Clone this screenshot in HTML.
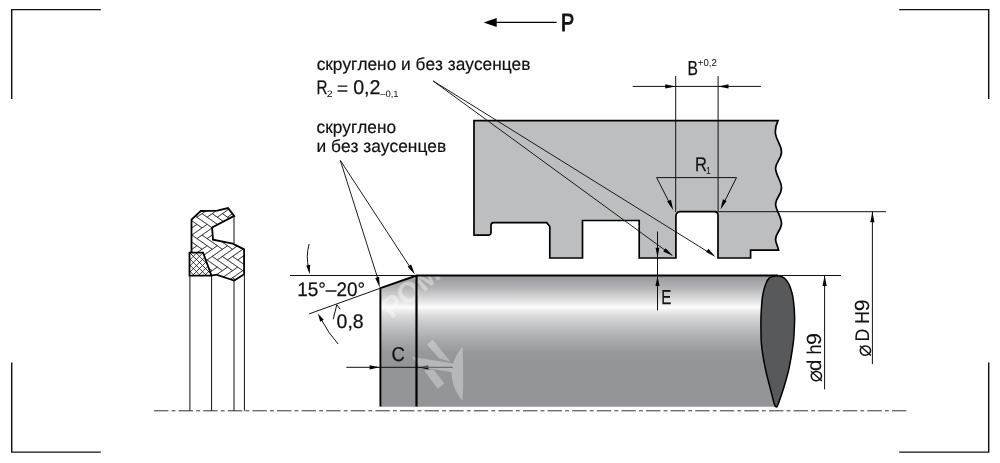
<!DOCTYPE html>
<html lang="ru">
<head>
<meta charset="utf-8">
<title>Чертёж посадочного места уплотнения</title>
<style>
html,body{margin:0;padding:0;background:#fff;}
body{width:1000px;height:463px;overflow:hidden;}
svg{display:block;}
.labels{filter:grayscale(1);}
text{font-family:"Liberation Sans",sans-serif;fill:#111;text-rendering:geometricPrecision;font-kerning:none;}
.thin{stroke:#111;stroke-width:1;fill:none;}
.lead{stroke:#111;stroke-width:0.95;fill:none;}
.thick{stroke:#000;stroke-width:1.7;fill:none;stroke-linejoin:miter;}
.frame{stroke:#111;stroke-width:1.45;fill:none;}
.ah{fill:#000;stroke:none;}
</style>
</head>
<body>
<svg width="1000" height="463" viewBox="0 0 1000 463">
<defs>
  <linearGradient id="shaft" x1="0" y1="275" x2="0" y2="407" gradientUnits="userSpaceOnUse">
    <stop offset="0" stop-color="#97989a"/>
    <stop offset="0.03" stop-color="#9d9fa2"/>
    <stop offset="0.10" stop-color="#b4b5b7"/>
    <stop offset="0.16" stop-color="#d0d1d3"/>
    <stop offset="0.205" stop-color="#e6e6e7"/>
    <stop offset="0.228" stop-color="#f2f2f3"/>
    <stop offset="0.244" stop-color="#fdfdfd"/>
    <stop offset="0.26" stop-color="#f2f2f3"/>
    <stop offset="0.28" stop-color="#e8e8e9"/>
    <stop offset="0.31" stop-color="#d9dadb"/>
    <stop offset="0.39" stop-color="#c1c2c4"/>
    <stop offset="0.49" stop-color="#a9aaad"/>
    <stop offset="0.585" stop-color="#98999c"/>
    <stop offset="0.65" stop-color="#939598"/>
    <stop offset="1" stop-color="#939598"/>
  </linearGradient>
</defs>
<rect width="1000" height="463" fill="#fff"/>

<!-- frame corners -->
<path class="frame" d="M100.8,9.6H11.7V99"/>
<path class="frame" d="M899.2,9.6H988.7V99"/>
<path class="frame" d="M11.7,362.5V452.1H100.8"/>
<path class="frame" d="M988.7,362.5V452.1H899.2"/>

<!-- shaft -->
<path d="M380.4,288.2L416.5,275.5H777L776.3,406.8H380.4Z" fill="url(#shaft)"/>
<path d="M776.7,275.4C775.5,275.8 771.2,276.4 769.4,277.9C767.6,279.4 766.7,281.8 765.7,284.2C764.7,286.6 763.9,289.6 763.3,292.3C762.7,295.0 762.4,296.3 762.0,300.4C761.6,304.4 761.2,311.2 761.0,316.6C760.8,322.0 761.0,328.5 761.0,332.8C761.0,337.1 761.0,338.7 761.3,342.6C761.6,346.5 762.2,351.2 763.0,356.2C763.8,361.2 765.0,367.0 766.2,372.4C767.4,377.8 768.9,383.2 770.3,388.6C771.7,394.0 773.6,401.8 774.6,404.8C775.6,407.9 776.0,406.5 776.3,406.9C776.6,406.5 776.7,407.9 777.9,404.8C779.1,401.8 781.8,394.0 783.5,388.6C785.2,383.2 786.8,377.8 788.1,372.4C789.4,367.0 790.4,361.2 791.3,356.2C792.2,351.2 792.8,346.5 793.3,342.6C793.8,338.7 793.9,337.1 794.1,332.8C794.3,328.5 794.7,322.0 794.6,316.6C794.5,311.2 793.9,304.4 793.4,300.4C792.9,296.3 792.5,295.0 791.8,292.3C791.0,289.6 790.2,286.6 788.9,284.2C787.6,281.8 786.0,279.4 784.0,277.9C782.0,276.4 777.9,275.8 776.7,275.4Z" fill="#58595b" stroke="#000" stroke-width="1.5" stroke-linejoin="round"/>

<path class="thin" d="M346.3,367.3H452.7"/>
<path class="ah" d="M379.6,367.3L369.6,365.2V369.4Z"/>
<path class="ah" d="M418.3,367.3L428.4,365.2V369.4Z"/>
<!-- watermark -->
<g fill="#fff" opacity="0.32">
  <path d="M426.9,344.7L432.6,339.8L450.3,361.4L439.5,358.5Z"/>
  <path d="M411.9,356.8L455.1,363.7L452.5,372.3L419.7,367.1Z"/>
  <path d="M424,370.6L433.5,369.4L444.4,383.5L437.8,388.7Z"/>
  <path d="M462.3,347.3C455,356 451.6,365 451.6,373.2C451.6,383 456,393 462.3,400.8C463.5,392 463.5,356 462.3,347.3Z"/>
</g>
<text transform="translate(391.5 319.5) rotate(-40)" font-size="29" font-weight="bold" style="fill:#fff" opacity="0.4" font-family='"Liberation Sans",sans-serif'>РОМ</text>
<path d="M380.4,406.5V288.2L416.5,275.5H778" stroke="#000" stroke-width="1.9" fill="none"/>
<path d="M416.5,275.5V406.5" stroke="#000" stroke-width="2.2" fill="none"/>

<!-- housing -->
<path id="housing" d="M474,120.7H778C775,127 775,131 775.6,134.3C777,142 781.5,145 781.5,152.1C781.5,159 775.6,162 775.6,168.3C775.6,175 781.5,181 781.5,187.7C781.5,195 775.6,198 775.6,203.9C775.6,210 781.5,217 781.5,223.4C781.5,230 775.6,233 775.6,239.5C775.6,244 778,246 778.6,250.2H750.6V258H718V214.7Q717.8,211.9 715,211.7H680Q676.4,212 675.9,216V258H639.2V220.5H582.5V258H549.8V226.5L546.7,222.7H493.5Q491,222.9 491,225.5V233Q490.8,235 488.8,235.2H474Z" fill="#bcbec0" stroke="#000" stroke-width="1.7" stroke-linejoin="miter"/>

<!-- centerline -->
<path d="M154,410.8H906.4" stroke="#333" stroke-width="1" stroke-dasharray="14.4 3.2 3.8 3.2" fill="none"/>

<!-- seal -->
<g transform="translate(0.4 0.9)">
<clipPath id="sealclip"><path d="M191.1,218.8L200.4,210.1L216.9,209.7L227.6,207.2L233.8,215L211.7,226.6L212.6,238.8L232.4,242.7L243.7,248.5V273.4L233.8,279.6L215.9,273.8L211.1,274.8L202.7,251.8H191.1Z"/></clipPath>
<clipPath id="ringclip"><path d="M189.1,251.8H202.7L211.1,274.8H189.1Z"/></clipPath>
<g clip-path="url(#sealclip)"><path transform="translate(222.0 255.5) scale(1 0.7) rotate(-45) scale(7.2)" d="M-15,-9h3v1h-3zM-12,-11h1v3h-1zM-12,-12h3v1h-3zM-9,-14h1v3h-1zM-9,-15h3v1h-3zM-6,-17h1v3h-1zM-14,-8h3v1h-3zM-11,-10h1v3h-1zM-11,-11h3v1h-3zM-8,-13h1v3h-1zM-8,-14h3v1h-3zM-5,-16h1v3h-1zM-13,-7h3v1h-3zM-10,-9h1v3h-1zM-10,-10h3v1h-3zM-7,-12h1v3h-1zM-7,-13h3v1h-3zM-4,-15h1v3h-1zM-15,-3h3v1h-3zM-12,-5h1v3h-1zM-12,-6h3v1h-3zM-9,-8h1v3h-1zM-9,-9h3v1h-3zM-6,-11h1v3h-1zM-6,-12h3v1h-3zM-3,-14h1v3h-1zM-3,-15h3v1h-3zM0,-17h1v3h-1zM-14,-2h3v1h-3zM-11,-4h1v3h-1zM-11,-5h3v1h-3zM-8,-7h1v3h-1zM-8,-8h3v1h-3zM-5,-10h1v3h-1zM-5,-11h3v1h-3zM-2,-13h1v3h-1zM-2,-14h3v1h-3zM1,-16h1v3h-1zM-13,-1h3v1h-3zM-10,-3h1v3h-1zM-10,-4h3v1h-3zM-7,-6h1v3h-1zM-7,-7h3v1h-3zM-4,-9h1v3h-1zM-4,-10h3v1h-3zM-1,-12h1v3h-1zM-1,-13h3v1h-3zM2,-15h1v3h-1zM-15,3h3v1h-3zM-12,1h1v3h-1zM-12,0h3v1h-3zM-9,-2h1v3h-1zM-9,-3h3v1h-3zM-6,-5h1v3h-1zM-6,-6h3v1h-3zM-3,-8h1v3h-1zM-3,-9h3v1h-3zM0,-11h1v3h-1zM0,-12h3v1h-3zM3,-14h1v3h-1zM3,-15h3v1h-3zM6,-17h1v3h-1zM-14,4h3v1h-3zM-11,2h1v3h-1zM-11,1h3v1h-3zM-8,-1h1v3h-1zM-8,-2h3v1h-3zM-5,-4h1v3h-1zM-5,-5h3v1h-3zM-2,-7h1v3h-1zM-2,-8h3v1h-3zM1,-10h1v3h-1zM1,-11h3v1h-3zM4,-13h1v3h-1zM4,-14h3v1h-3zM7,-16h1v3h-1zM-13,5h3v1h-3zM-10,3h1v3h-1zM-10,2h3v1h-3zM-7,0h1v3h-1zM-7,-1h3v1h-3zM-4,-3h1v3h-1zM-4,-4h3v1h-3zM-1,-6h1v3h-1zM-1,-7h3v1h-3zM2,-9h1v3h-1zM2,-10h3v1h-3zM5,-12h1v3h-1zM5,-13h3v1h-3zM8,-15h1v3h-1zM-15,9h3v1h-3zM-12,7h1v3h-1zM-12,6h3v1h-3zM-9,4h1v3h-1zM-9,3h3v1h-3zM-6,1h1v3h-1zM-6,0h3v1h-3zM-3,-2h1v3h-1zM-3,-3h3v1h-3zM0,-5h1v3h-1zM0,-6h3v1h-3zM3,-8h1v3h-1zM3,-9h3v1h-3zM6,-11h1v3h-1zM6,-12h3v1h-3zM9,-14h1v3h-1zM9,-15h3v1h-3zM12,-17h1v3h-1zM-14,10h3v1h-3zM-11,8h1v3h-1zM-11,7h3v1h-3zM-8,5h1v3h-1zM-8,4h3v1h-3zM-5,2h1v3h-1zM-5,1h3v1h-3zM-2,-1h1v3h-1zM-2,-2h3v1h-3zM1,-4h1v3h-1zM1,-5h3v1h-3zM4,-7h1v3h-1zM4,-8h3v1h-3zM7,-10h1v3h-1zM7,-11h3v1h-3zM10,-13h1v3h-1zM10,-14h3v1h-3zM13,-16h1v3h-1zM-13,11h3v1h-3zM-10,9h1v3h-1zM-10,8h3v1h-3zM-7,6h1v3h-1zM-7,5h3v1h-3zM-4,3h1v3h-1zM-4,2h3v1h-3zM-1,0h1v3h-1zM-1,-1h3v1h-3zM2,-3h1v3h-1zM2,-4h3v1h-3zM5,-6h1v3h-1zM5,-7h3v1h-3zM8,-9h1v3h-1zM8,-10h3v1h-3zM11,-12h1v3h-1zM11,-13h3v1h-3zM14,-15h1v3h-1zM-15,15h3v1h-3zM-12,13h1v3h-1zM-12,12h3v1h-3zM-9,10h1v3h-1zM-9,9h3v1h-3zM-6,7h1v3h-1zM-6,6h3v1h-3zM-3,4h1v3h-1zM-3,3h3v1h-3zM0,1h1v3h-1zM0,0h3v1h-3zM3,-2h1v3h-1zM3,-3h3v1h-3zM6,-5h1v3h-1zM6,-6h3v1h-3zM9,-8h1v3h-1zM9,-9h3v1h-3zM12,-11h1v3h-1zM12,-12h3v1h-3zM15,-14h1v3h-1zM15,-15h3v1h-3zM18,-17h1v3h-1zM-11,13h3v1h-3zM-8,11h1v3h-1zM-8,10h3v1h-3zM-5,8h1v3h-1zM-5,7h3v1h-3zM-2,5h1v3h-1zM-2,4h3v1h-3zM1,2h1v3h-1zM1,1h3v1h-3zM4,-1h1v3h-1zM4,-2h3v1h-3zM7,-4h1v3h-1zM7,-5h3v1h-3zM10,-7h1v3h-1zM10,-8h3v1h-3zM13,-10h1v3h-1zM13,-11h3v1h-3zM16,-13h1v3h-1zM-10,14h3v1h-3zM-7,12h1v3h-1zM-7,11h3v1h-3zM-4,9h1v3h-1zM-4,8h3v1h-3zM-1,6h1v3h-1zM-1,5h3v1h-3zM2,3h1v3h-1zM2,2h3v1h-3zM5,0h1v3h-1zM5,-1h3v1h-3zM8,-3h1v3h-1zM8,-4h3v1h-3zM11,-6h1v3h-1zM11,-7h3v1h-3zM14,-9h1v3h-1zM14,-10h3v1h-3zM17,-12h1v3h-1zM-9,15h3v1h-3zM-6,13h1v3h-1zM-6,12h3v1h-3zM-3,10h1v3h-1zM-3,9h3v1h-3zM0,7h1v3h-1zM0,6h3v1h-3zM3,4h1v3h-1zM3,3h3v1h-3zM6,1h1v3h-1zM6,0h3v1h-3zM9,-2h1v3h-1zM9,-3h3v1h-3zM12,-5h1v3h-1zM12,-6h3v1h-3zM15,-8h1v3h-1zM15,-9h3v1h-3zM18,-11h1v3h-1zM-5,13h3v1h-3zM-2,11h1v3h-1zM-2,10h3v1h-3zM1,8h1v3h-1zM1,7h3v1h-3zM4,5h1v3h-1zM4,4h3v1h-3zM7,2h1v3h-1zM7,1h3v1h-3zM10,-1h1v3h-1zM10,-2h3v1h-3zM13,-4h1v3h-1zM13,-5h3v1h-3zM16,-7h1v3h-1zM-4,14h3v1h-3zM-1,12h1v3h-1zM-1,11h3v1h-3zM2,9h1v3h-1zM2,8h3v1h-3zM5,6h1v3h-1zM5,5h3v1h-3zM8,3h1v3h-1zM8,2h3v1h-3zM11,0h1v3h-1zM11,-1h3v1h-3zM14,-3h1v3h-1zM14,-4h3v1h-3zM17,-6h1v3h-1zM-3,15h3v1h-3zM0,13h1v3h-1zM0,12h3v1h-3zM3,10h1v3h-1zM3,9h3v1h-3zM6,7h1v3h-1zM6,6h3v1h-3zM9,4h1v3h-1zM9,3h3v1h-3zM12,1h1v3h-1zM12,0h3v1h-3zM15,-2h1v3h-1zM15,-3h3v1h-3zM18,-5h1v3h-1zM1,13h3v1h-3zM4,11h1v3h-1zM4,10h3v1h-3zM7,8h1v3h-1zM7,7h3v1h-3zM10,5h1v3h-1zM10,4h3v1h-3zM13,2h1v3h-1zM13,1h3v1h-3zM16,-1h1v3h-1zM2,14h3v1h-3zM5,12h1v3h-1zM5,11h3v1h-3zM8,9h1v3h-1zM8,8h3v1h-3zM11,6h1v3h-1zM11,5h3v1h-3zM14,3h1v3h-1zM14,2h3v1h-3zM17,0h1v3h-1zM3,15h3v1h-3zM6,13h1v3h-1zM6,12h3v1h-3zM9,10h1v3h-1zM9,9h3v1h-3zM12,7h1v3h-1zM12,6h3v1h-3zM15,4h1v3h-1zM15,3h3v1h-3zM18,1h1v3h-1zM7,13h3v1h-3zM10,11h1v3h-1zM10,10h3v1h-3zM13,8h1v3h-1zM13,7h3v1h-3zM16,5h1v3h-1zM8,14h3v1h-3zM11,12h1v3h-1zM11,11h3v1h-3zM14,9h1v3h-1zM14,8h3v1h-3zM17,6h1v3h-1zM9,15h3v1h-3zM12,13h1v3h-1zM12,12h3v1h-3zM15,10h1v3h-1zM15,9h3v1h-3zM18,7h1v3h-1z" stroke="#222" stroke-width="0.6" vector-effect="non-scaling-stroke" fill="none"/></g>
<g clip-path="url(#ringclip)"><path transform="translate(196 258.5) rotate(45) scale(0.94)" d="M-55.20,-40V40M-40,-55.20H40M-50.60,-40V40M-40,-50.60H40M-46.00,-40V40M-40,-46.00H40M-41.40,-40V40M-40,-41.40H40M-36.80,-40V40M-40,-36.80H40M-32.20,-40V40M-40,-32.20H40M-27.60,-40V40M-40,-27.60H40M-23.00,-40V40M-40,-23.00H40M-18.40,-40V40M-40,-18.40H40M-13.80,-40V40M-40,-13.80H40M-9.20,-40V40M-40,-9.20H40M-4.60,-40V40M-40,-4.60H40M0.00,-40V40M-40,0.00H40M4.60,-40V40M-40,4.60H40M9.20,-40V40M-40,9.20H40M13.80,-40V40M-40,13.80H40M18.40,-40V40M-40,18.40H40M23.00,-40V40M-40,23.00H40M27.60,-40V40M-40,27.60H40M32.20,-40V40M-40,32.20H40M36.80,-40V40M-40,36.80H40M41.40,-40V40M-40,41.40H40M46.00,-40V40M-40,46.00H40M50.60,-40V40M-40,50.60H40M55.20,-40V40M-40,55.20H40" stroke="#111" stroke-width="0.8" fill="none"/></g>
<path class="thick" style="stroke-width:1.8" d="M191.1,251.8V218.8L200.4,210.1L216.9,209.7L227.6,207.2L233.8,215L211.7,226.6L212.6,238.8L232.4,242.7L243.7,248.5V273.4L233.8,279.6L215.9,273.8L211.1,274.8H189.1V251.8H202.7L211.1,274.8"/>
</g>
<path class="thin" style="stroke-width:1" d="M189.9,276V410.8M211.6,276V410.8M234,216V243.5M234,280.5V410.8M244.4,274V410.8"/>

<!-- P arrow -->
<path d="M496,22.4H556.6" stroke="#000" stroke-width="1.4" fill="none"/>
<path class="ah" d="M483.6,22.4L496.7,17.9V26.9Z"/>

<!-- notes -->

<!-- leaders from notes -->
<path class="lead" d="M433.2,81L665.5,250.5M433.2,81L707.5,251.6"/>
<path class="ah" d="M673.1,256L663.2,251.6L665.6,248.3Z"/>
<path class="ah" d="M715.5,256.9L706,252L708.4,248.8Z"/>
<path class="lead" d="M340.3,160.4L377.8,278.5M340.3,160.4L410,267"/>
<path class="ah" d="M379.8,287.6L375.2,278L379.1,276.8Z"/>
<path class="ah" d="M414.9,274.5L407.7,266.7L411.1,264.5Z"/>

<!-- B dimension -->
<path class="thin" d="M675.7,76.1V212M718.1,76.1V212"/>
<path class="thin" d="M632.7,86.4H761"/>
<path class="ah" d="M675.5,86.4L665.3,84.3V88.5Z"/>
<path class="ah" d="M718.3,86.4L728.5,84.3V88.5Z"/>

<!-- R1 -->
<path class="thin" d="M670.6,205L656.6,177.6H736.5L723,204.5"/>
<path class="ah" d="M673.3,210.3L667.2,201.6L670.9,199.7Z"/>
<path class="ah" d="M720.5,209.6L722.9,199.3L726.6,201.1Z"/>

<!-- D H9 -->
<path class="thin" d="M718.5,211.7H885.9"/>
<path class="thin" d="M872.4,211.7V364.1"/>
<path class="ah" d="M872.4,211.9L870.3,222.2H874.5Z"/>

<!-- d h9 -->
<path class="thin" d="M778,275.5H841"/>
<path class="thin" d="M824.6,275.5V389.4"/>
<path class="ah" d="M824.6,275.7L822.5,286H826.7Z"/>

<!-- E -->
<path class="thin" d="M657.5,231.5V310.4"/>
<path class="ah" d="M657.5,257.4L655.6,247.7H659.4Z"/>
<path class="ah" d="M657.5,276.6L655.4,286H659.6Z"/>

<!-- chamfer angle -->
<path class="thin" d="M290,275.5H416.5"/>
<path class="thin" d="M309.1,313.9L380.4,288.2"/>
<path class="thin" d="M309.1,244Q305.6,257 308.8,268"/>
<path class="ah" d="M309.7,274.3L306.3,265.6L310.2,264.8Z"/>
<path class="thin" d="M338.2,344A105,105 0 0 1 321.6,320"/>
<path class="ah" d="M317.9,313.5L323.7,319.7L320.2,321.7Z"/>
<path class="thin" d="M333.2,319.3L336.8,304.7L340.2,309.3"/>

<!-- C dimension -->
<g class="labels">
<!-- labels -->
<text transform="translate(560.98 31.10) scale(0.7936 1)" font-size="24.86" font-family='"Liberation Sans",sans-serif' fill="#111" stroke="#111" stroke-width="1.0">P</text>
<text transform="translate(316.67 70.00) scale(0.9898 1)" font-size="17.47" font-family='"Liberation Sans",sans-serif' fill="#111" stroke="#111" stroke-width="0.2">скруглено и без заусенцев</text>
<text transform="translate(316.56 93.50) scale(0.7726 1)" font-size="19.62" font-family='"Liberation Sans",sans-serif' fill="#111" stroke="#111" stroke-width="0.25">R</text>
<text transform="translate(326.87 96.80) scale(1.1150 1)" font-size="9.45" font-family='"Liberation Sans",sans-serif' fill="#111">2</text>
<text transform="translate(336.84 94.70) scale(1.0071 1)" font-size="19.62" font-family='"Liberation Sans",sans-serif' fill="#111">=</text>
<text transform="translate(353.13 93.60) scale(0.9885 1)" font-size="19.91" font-family='"Liberation Sans",sans-serif' fill="#111" stroke="#111" stroke-width="0.25">0,2</text>
<text transform="translate(380.20 97.00) scale(1.0345 1)" font-size="9.17" font-family='"Liberation Sans",sans-serif' fill="#111">–0,1</text>
<text transform="translate(316.57 132.70) scale(0.9886 1)" font-size="17.47" font-family='"Liberation Sans",sans-serif' fill="#111" stroke="#111" stroke-width="0.2">скруглено</text>
<text transform="translate(316.50 152.30) scale(0.9923 1)" font-size="17.47" font-family='"Liberation Sans",sans-serif' fill="#111" stroke="#111" stroke-width="0.2">и без заусенцев</text>
<text transform="translate(687.62 74.90) scale(0.7663 1)" font-size="20.35" font-family='"Liberation Sans",sans-serif' fill="#111" stroke="#111" stroke-width="0.25">B</text>
<text transform="translate(697.83 66.40) scale(0.9717 1)" font-size="9.88" font-family='"Liberation Sans",sans-serif' fill="#111">+0,2</text>
<text transform="translate(695.05 170.50) scale(0.8349 1)" font-size="19.77" font-family='"Liberation Sans",sans-serif' fill="#111" stroke="#111" stroke-width="0.25">R</text>
<text transform="translate(706.03 174.10) scale(0.8675 1)" font-size="10.15" font-family='"Liberation Serif",serif' fill="#111">1</text>
<text transform="translate(661.16 303.80) scale(0.7490 1)" font-size="20.2" font-family='"Liberation Sans",sans-serif' fill="#111" stroke="#111" stroke-width="0.25">E</text>
<text transform="translate(391.46 361.10) scale(0.9214 1)" font-size="20.05" font-family='"Liberation Sans",sans-serif' fill="#111" stroke="#111" stroke-width="0.25">C</text>
<text transform="translate(297.26 295.60) scale(0.9648 1)" font-size="19.62" font-family='"Liberation Sans",sans-serif' fill="#111" stroke="#111" stroke-width="0.25">15°–20°</text>
<text transform="translate(336.54 328.10) scale(0.9869 1)" font-size="19.76" font-family='"Liberation Sans",sans-serif' fill="#111" stroke="#111" stroke-width="0.25">0,8</text>
<text transform="translate(822.00 381.50) rotate(-90) translate(-0.74 0.00) scale(0.9012 1)" font-size="22.58" font-family='"DejaVu Sans","Liberation Sans",sans-serif' fill="#111">⌀</text>
<text transform="translate(821.20 381.50) rotate(-90) translate(10.44 0.00) scale(1.0224 1)" font-size="20.01" font-family='"Liberation Sans",sans-serif' fill="#111" stroke="#111" stroke-width="0.1">d</text>
<text transform="translate(821.20 381.50) rotate(-90) translate(26.95 0.00) scale(0.9003 1)" font-size="20.01" font-family='"Liberation Sans",sans-serif' fill="#111" stroke="#111" stroke-width="0.1">h</text>
<text transform="translate(821.20 381.50) rotate(-90) translate(36.50 0.00) scale(1.0465 1)" font-size="20.48" font-family='"Liberation Sans",sans-serif' fill="#111" stroke="#111" stroke-width="0.1">9</text>
<text transform="translate(870.50 356.00) rotate(-90) translate(-0.74 0.00) scale(0.9012 1)" font-size="22.58" font-family='"DejaVu Sans","Liberation Sans",sans-serif' fill="#111">⌀</text>
<text transform="translate(869.20 356.00) rotate(-90) translate(14.55 0.00) scale(0.8967 1)" font-size="19.77" font-family='"Liberation Sans",sans-serif' fill="#111" stroke="#111" stroke-width="0.1">D</text>
<text transform="translate(869.20 356.00) rotate(-90) translate(32.12 0.00) scale(0.9014 1)" font-size="20.06" font-family='"Liberation Sans",sans-serif' fill="#111" stroke="#111" stroke-width="0.1">H</text>
<text transform="translate(869.20 356.00) rotate(-90) translate(44.71 0.00) scale(1.0359 1)" font-size="20.48" font-family='"Liberation Sans",sans-serif' fill="#111" stroke="#111" stroke-width="0.1">9</text>
</g>
</svg>
</body>
</html>
